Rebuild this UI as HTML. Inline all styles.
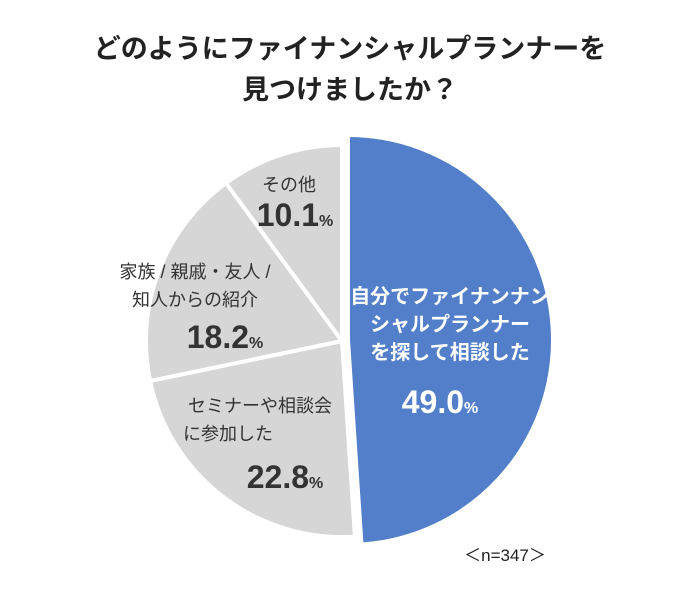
<!DOCTYPE html>
<html><head><meta charset="utf-8"><style>
body{margin:0;background:#fff;width:700px;height:598px;overflow:hidden}
text{font-family:"Liberation Sans","Noto Sans CJK JP",sans-serif}
</style></head><body>
<svg width="700" height="598" viewBox="0 0 700 598">
<text x="350" y="58" text-anchor="middle" font-size="27" font-weight="bold" fill="#222">どのようにファイナンシャルプランナーを</text>
<text x="350" y="99" text-anchor="middle" font-size="27" font-weight="bold" fill="#222">見つけましたか？</text>
<g id="slices"></g>
<g id="labels"></g>
<text x="505" y="561" text-anchor="middle" font-size="17" fill="#222">＜n=347＞</text>
</svg>
<script>
const categories=["自分でファイナンシャルプランナーを探して相談した","セミナーや相談会に参加した","家族/親戚・友人/知人からの紹介","その他"];
const values=[49.0,22.8,18.2,10.1];
const colors=["#537fca","#d6d6d6","#d6d6d6","#d6d6d6"];
const labelLines=[["自分でファイナンシャルプランナーを探して相談した"]];
const ns="http://www.w3.org/2000/svg";
const g=document.getElementById("slices");
const total=values.reduce((a,b)=>a+b,0);
function pt(cx,cy,r,a){return [cx+r*Math.sin(a),cy-r*Math.cos(a)];}
let start=0;
values.forEach((v,i)=>{
  const ang=v/total*2*Math.PI;
  const cx=i===0?348:342, cy=i===0?340:341, r=i===0?205:196;
  const p1=pt(cx,cy,r,start),p2=pt(cx,cy,r,start+ang);
  const large=ang>Math.PI?1:0;
  const path=document.createElementNS(ns,"path");
  path.setAttribute("d",`M${cx},${cy} L${p1[0]},${p1[1]} A${r},${r} 0 ${large} 1 ${p2[0]},${p2[1]} Z`);
  path.setAttribute("fill",colors[i]);
  path.setAttribute("stroke","#fff");
  path.setAttribute("stroke-width","4");
  path.setAttribute("stroke-linejoin","round");
  
  
  g.appendChild(path);
  start+=ang;
});
const L=document.getElementById("labels");
function txt(x,y,s,size,fill,bold,name){
  const t=document.createElementNS(ns,"text");
  t.setAttribute("x",x);t.setAttribute("y",y);t.setAttribute("text-anchor","middle");
  t.setAttribute("font-size",size);t.setAttribute("fill",fill);
  if(bold)t.setAttribute("font-weight","bold");
  t.innerHTML=s;
  
  
  L.appendChild(t);
}
const pctTxt=v=>v.toFixed(1)+'<tspan font-size="16">%</tspan>';
txt(450,303,"自分でファイナンシャン".replace("シャン","ナン"),20,"#fff",true,"label-self-line1");
txt(450,331,"シャルプランナー",20,"#fff",true,"label-self-line2");
txt(450,359,"を探して相談した",20,"#fff",true,"label-self-line3");
txt(440,413,pctTxt(values[0]),32,"#fff",true,"value-self");
txt(260,412,"セミナーや相談会",18,"#333",false,"label-seminar-line1");
txt(228,440,"に参加した",18,"#333",false,"label-seminar-line2");
txt(285,488,pctTxt(values[1]),32,"#333",true,"value-seminar");
txt(195,278,"家族 / 親戚・友人 /",18,"#333",false,"label-family-line1");
txt(195,306,"知人からの紹介",18,"#333",false,"label-family-line2");
txt(225,348,pctTxt(values[2]),32,"#333",true,"value-family");
txt(289,191,"その他",18,"#333",false,"label-other");
txt(295,226,pctTxt(values[3]),32,"#333",true,"value-other");
</script>
</body></html>
